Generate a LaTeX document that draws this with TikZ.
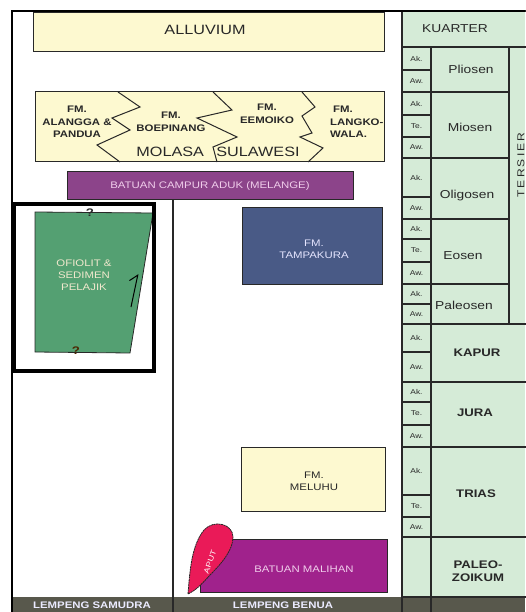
\documentclass[tikz,border=0pt]{standalone}
\usepackage{fontspec}
\setmainfont[FakeStretch=1.2]{Liberation Sans}
\newfontfamily\spacedfont[FakeStretch=1.2,LetterSpace=22]{Liberation Sans}
\usetikzlibrary{arrows.meta}
\definecolor{sandyellow}{RGB}{253,249,208}
\definecolor{tablegreen}{RGB}{213,235,215}
\definecolor{melangepurple}{RGB}{140,68,138}
\definecolor{ofiolitgreen}{RGB}{84,160,114}
\definecolor{tampablue}{RGB}{73,90,134}
\definecolor{malihanpurple}{RGB}{160,34,140}
\definecolor{aputred}{RGB}{234,26,88}
\definecolor{platebar}{RGB}{88,88,76}
\definecolor{inkgray}{RGB}{40,40,40}
\definecolor{palecream}{RGB}{240,232,205}
\definecolor{palepink}{RGB}{240,205,235}

\begin{document}
\begin{tikzpicture}[x=1pt,y=-1pt,
  box/.style={draw=inkgray,line width=1pt},
  rule/.style={draw=inkgray,line width=1.1pt},
  lbl/.style={font=\fontsize{9.5}{12}\selectfont,text=inkgray,align=center,inner sep=0pt},
  lblb/.style={lbl,font=\fontsize{9.5}{12.5}\selectfont\bfseries},
  big/.style={lbl,font=\fontsize{13.5}{16}\selectfont},
  epoch/.style={lbl,font=\fontsize{11.5}{13}\selectfont},
  period/.style={lbl,font=\fontsize{11}{12.5}\selectfont\bfseries},
  sub/.style={lbl,font=\fontsize{7}{8}\selectfont},
  plate/.style={lbl,font=\fontsize{9.5}{11}\selectfont\bfseries,text=white!92!blue}]
\useasboundingbox (0,0) rectangle (525,612);

% time scale table
\fill[tablegreen] (402,11) rectangle (525,597);
\fill[platebar] (12,597) rectangle (525,612);
\draw[rule] (402,11) rectangle (530,47);
\node[epoch] (kuarter) at (455,29) {KUARTER};
\draw[rule] (509,47) rectangle (530,324);
\node[lbl,font=\spacedfont\fontsize{10}{12}\selectfont,rotate=90] (tersier) at (521,165) {TERSIER};
\foreach \t/\b in {47/92,92/158,158/219,219/284,284/324}
  \draw[rule] (431,\t) rectangle (509,\b);
\foreach \t/\b in {324/382,382/447,447/537,537/597}
  \draw[rule] (431,\t) rectangle (530,\b);
\foreach \t/\b/\s [count=\i] in {47/70/Ak., 70/92/Aw., 92/115/Ak., 115/137/Te., 137/158/Aw.,
    158/197/Ak., 197/219/Aw., 219/239/Ak., 239/262/Te., 262/284/Aw., 284/304/Ak., 304/324/Aw.,
    324/352/Ak., 352/382/Aw., 382/402/Ak., 402/425/Te., 425/447/Aw., 447/495/Ak., 495/517/Te., 517/537/Aw.}{
  \draw[rule] (402,\t) rectangle (431,\b);
  \node[sub] (sub\i) at (416.5,{(\t+\b)/2}) {\s};
}
\draw[rule] (402,537) rectangle (431,597);
\node[epoch] (pliosen) at (471,69) {Pliosen};
\node[epoch] (miosen) at (470,127) {Miosen};
\node[epoch] (oligosen) at (467,196) {Oligosen};
\node[epoch] (eosen) at (463,256) {Eosen};
\node[epoch] (paleosen) at (464,305) {Paleosen};
\node[period] (kapur) at (477,353) {KAPUR};
\node[period] (jura) at (475,413) {JURA};
\node[period] (trias) at (476,494) {TRIAS};
\node[period] (paleozoikum) at (478,571) {PALEO-\\ZOIKUM};

% frame and plates
\draw[inkgray,line width=1.2pt] (173,200) -- (173,612);
\draw[inkgray,line width=1.2pt] (402,597) -- (402,612);
\draw[inkgray,line width=1.2pt] (431,597) -- (431,612);
\draw[line width=2.5pt] (12,612) -- (12,11) -- (525,11);
\node[plate] (samudra) at (92,605) {LEMPENG SAMUDRA};
\node[plate] (benua) at (283,605) {LEMPENG BENUA};

% molasa and alluvium
\draw[box,fill=sandyellow] (33,13) rectangle (384,52);
\node[big] (alluvium) at (205,30) {ALLUVIUM};
\draw[box,fill=sandyellow] (35,92) rectangle (384,162);
\draw[box] (118,92) -- (140,107) -- (112,118) -- (130,130) -- (97,145) -- (120,162);
\draw[box] (213,92) -- (232,110) -- (197,118) -- (237,137) -- (213,147) -- (217,162);
\draw[box] (302,92) -- (315,107) -- (302,116) -- (312,133) -- (300,137) -- (323,148) -- (308,162);
\node[lblb] (alangga) at (77,122) {FM.\\ALANGGA \&\\PANDUA};
\node[lblb] (boepinang) at (171,122) {FM.\\BOEPINANG};
\node[lblb] (eemoiko) at (267,114) {FM.\\EEMOIKO};
\node[lblb,align=left,anchor=west] (langkowala) at (330,122) {\hspace*{3pt}FM.\\LANGKO-\\WALA.};
\node[big] (molasa) at (218,152) {MOLASA \hspace{8pt}SULAWESI};

% melange
\draw[box,fill=melangepurple] (67,172) rectangle (353,200);
\node[lbl,text=palepink] (melange) at (210,186) {BATUAN CAMPUR ADUK (MELANGE)};

% ofiolit
\draw[inkgray,line width=0.8pt,fill=ofiolitgreen] (35,212) -- (153,213) -- (130,353) -- (35,352) -- cycle;
\draw[line width=3.5pt] (14,204) rectangle (154,371);
\node[lbl,text=palecream] (ofiolit) at (84,275) {OFIOLIT \&\\SEDIMEN\\PELAJIK};
\coordinate (fault1) at (131,307);
\coordinate (fault2) at (138,274);
\draw[line width=1pt,-{Straight Barb[left,length=7pt]}] (fault1) -- (fault2);
\node[lblb,font=\fontsize{11}{12}\selectfont\bfseries] (q1) at (90,213) {?};
\node[lblb,font=\fontsize{11}{12}\selectfont\bfseries,text=black!70!orange] (q2) at (76,351) {?};

% continental side
\draw[box,fill=tampablue] (242,208) rectangle (382,284);
\node[lbl,text=white!90!blue] (tampakura) at (314,249) {FM.\\TAMPAKURA};
\draw[box,fill=sandyellow] (241,447) rectangle (385,511);
\node[lbl] (meluhu) at (314,481) {FM.\\MELUHU};
\draw[box,fill=malihanpurple] (200,539) rectangle (387,592);
\node[lbl,text=palepink] (malihan) at (304,569) {BATUAN MALIHAN};
\draw[inkgray,line width=0.8pt,dash pattern=on 2pt off 0.6pt,fill=aputred]
  (188,594) .. controls (190,568) and (192,545) .. (204,530)
  .. controls (214,519) and (233,524) .. (233,537)
  .. controls (233,550) and (222,563) .. (210,575)
  .. controls (201,585) and (196,590) .. (188,594) -- cycle;
\node[lbl,font=\fontsize{7.5}{9}\selectfont,text=white,rotate=70] (aput) at (210,562) {APUT};
\end{tikzpicture}
\end{document}
